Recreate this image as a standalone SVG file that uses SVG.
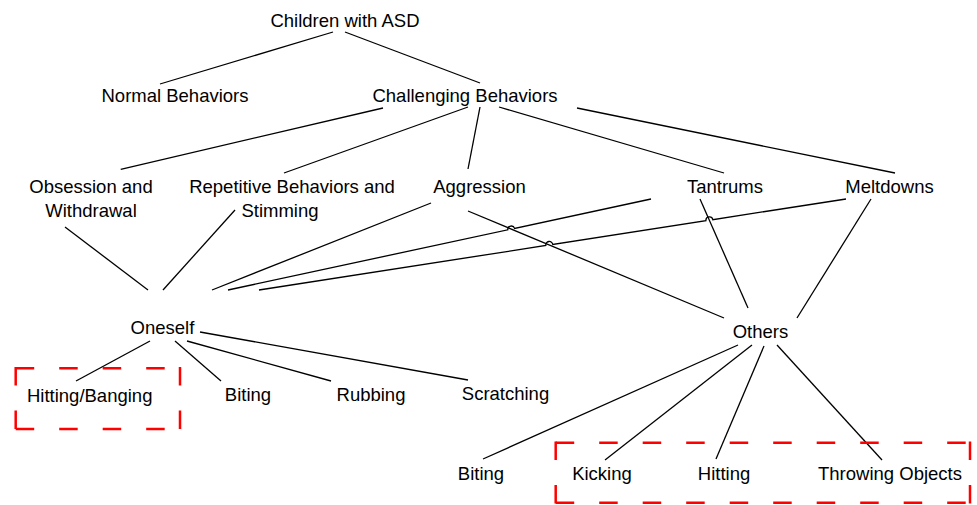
<svg xmlns="http://www.w3.org/2000/svg" width="977" height="505" viewBox="0 0 977 505">
<style>
text{font-family:"Liberation Sans",Arial,sans-serif;font-size:18.5px;fill:#000;text-anchor:middle}
.c{stroke:#000;stroke-width:1.3;fill:none}
.hl line{stroke:#ff0000;stroke-width:2.5;fill:none;stroke-dasharray:18.5 25}
</style>
<rect width="977" height="505" fill="#fff"/>
<g id="connectors">
<line class="c" x1="333" y1="32" x2="160" y2="84"/>
<line class="c" x1="345" y1="32" x2="480" y2="83"/>
<line class="c" x1="383" y1="108" x2="120.7" y2="169.3"/>
<line class="c" x1="468" y1="107" x2="284" y2="173"/>
<line class="c" x1="480" y1="107" x2="468" y2="169"/>
<line class="c" x1="499" y1="107" x2="724" y2="173"/>
<line class="c" x1="577" y1="108" x2="895" y2="173"/>
<line class="c" x1="65" y1="227" x2="148" y2="290"/>
<line class="c" x1="235" y1="210" x2="163" y2="290"/>
<line class="c" x1="431" y1="203" x2="212" y2="290"/>
<path class="c" d="M651,199 L514.6,228.4 A3.5,3.5 0 0 0 507.8,229.8 L228,290"/>
<path class="c" d="M846,199 L712.8,219.65 A3.5,3.5 0 0 0 705.9,220.7 L552.8,244.5 A3.5,3.5 0 0 0 545.8,245.5 L259,290"/>
<line class="c" x1="468" y1="211" x2="724" y2="318"/>
<line class="c" x1="700" y1="199" x2="748" y2="308"/>
<line class="c" x1="871" y1="199" x2="797" y2="318"/>
<line class="c" x1="150" y1="341" x2="76" y2="381"/>
<line class="c" x1="175" y1="341" x2="221" y2="381"/>
<line class="c" x1="187" y1="341" x2="331" y2="381"/>
<line class="c" x1="200" y1="332" x2="468" y2="380"/>
<line class="c" x1="738" y1="345" x2="483" y2="459"/>
<line class="c" x1="752" y1="345" x2="605" y2="460"/>
<line class="c" x1="764" y1="346" x2="716" y2="459"/>
<line class="c" x1="777" y1="345" x2="882" y2="460"/>
</g>
<g id="highlight-oneself" class="hl">
<line x1="15.7" y1="368.3" x2="180" y2="368.3"/>
<line x1="15.7" y1="429" x2="180" y2="429"/>
<line x1="15.7" y1="367.1" x2="15.7" y2="430.2"/>
<line x1="180" y1="367.1" x2="180" y2="430.2"/>
</g>
<g id="highlight-others" class="hl">
<line x1="555.7" y1="442.7" x2="970" y2="442.7"/>
<line x1="555.7" y1="502.7" x2="970" y2="502.7"/>
<line x1="555.7" y1="441.5" x2="555.7" y2="503.9"/>
<line x1="970" y1="441.5" x2="970" y2="503.9"/>
</g>
<g id="n-children"><text x="345" y="26.7">Children with ASD</text></g>
<g id="n-normal"><text x="175" y="102">Normal Behaviors</text></g>
<g id="n-challenging"><text x="465" y="102">Challenging Behaviors</text></g>
<g id="n-obsession"><text x="91" y="192.5">Obsession and</text><text x="91" y="217">Withdrawal</text></g>
<g id="n-repetitive"><text x="292" y="192.5">Repetitive Behaviors and</text><text x="280" y="217">Stimming</text></g>
<g id="n-aggression"><text x="479.5" y="192.5">Aggression</text></g>
<g id="n-tantrums"><text x="725" y="192.5">Tantrums</text></g>
<g id="n-meltdowns"><text x="889.5" y="192.5">Meltdowns</text></g>
<g id="n-oneself"><text x="162.5" y="334.3">Oneself</text></g>
<g id="n-others"><text x="760.5" y="338.3">Others</text></g>
<g id="n-hitting-banging"><text x="89.7" y="401.5">Hitting/Banging</text></g>
<g id="n-biting1"><text x="248" y="401">Biting</text></g>
<g id="n-rubbing"><text x="371" y="400.5">Rubbing</text></g>
<g id="n-scratching"><text x="505.5" y="400">Scratching</text></g>
<g id="n-biting2"><text x="481" y="480">Biting</text></g>
<g id="n-kicking"><text x="602" y="480">Kicking</text></g>
<g id="n-hitting"><text x="724" y="480">Hitting</text></g>
<g id="n-throwing"><text x="890" y="480">Throwing Objects</text></g>
</svg>
